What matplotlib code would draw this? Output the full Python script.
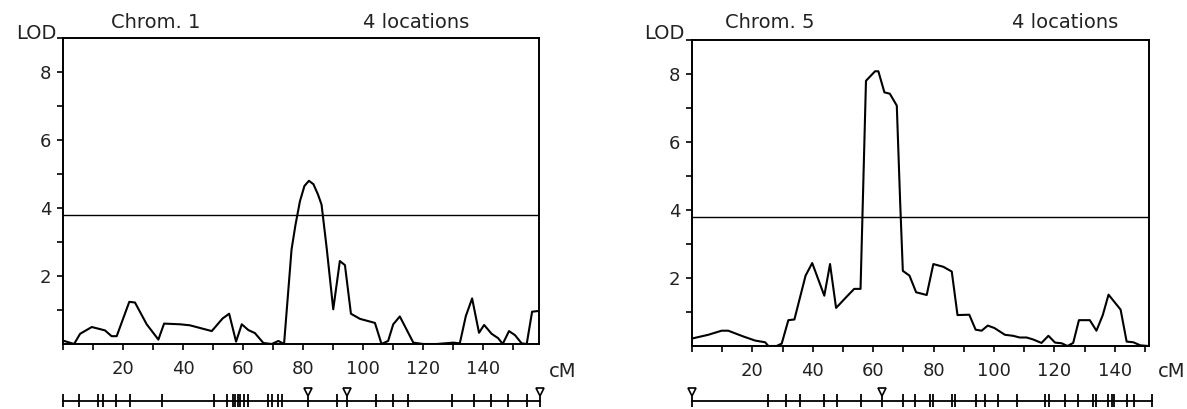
import numpy as np
import matplotlib
matplotlib.use("Agg")
import matplotlib.pyplot as plt

plt.rcParams['font.family'] = ['DejaVu Sans']

# LOD profile, chromosome 1
chr1_cm = [0, 3.7, 5.7, 9.6, 14, 16.2, 17.9, 22.1, 24, 27.9, 31.8, 33.7, 39, 42.3,
           49.6, 53.2, 55.4, 57.7, 59.6, 61.8, 64, 66.8, 69.6, 71.8, 73.7, 76.2,
           77.5, 79, 80.5, 82, 83.5, 85, 86.2, 87.9, 90.1, 92.3, 94, 96, 99, 104,
           106.2, 108.4, 110.1, 112.3, 116.8, 120.1, 124.6, 130.1, 132.3, 134.3,
           136.4, 138.7, 140.4, 142.9, 145.1, 146.6, 148.7, 150.7, 152.9, 154.6,
           156.4, 158.4]
chr1_lod = [0.1, 0.0, 0.3, 0.5, 0.4, 0.23, 0.23, 1.24, 1.22, 0.58, 0.13, 0.6, 0.58, 0.55,
            0.38, 0.75, 0.89, 0.07, 0.58, 0.41, 0.32, 0.03, 0.0, 0.09, 0.0, 2.78,
            3.5, 4.2, 4.65, 4.8, 4.7, 4.4, 4.1, 2.83, 1.02, 2.44, 2.32, 0.89, 0.74, 0.62,
            0.0, 0.09, 0.58, 0.81, 0.04, 0.0, 0.0, 0.04, 0.02, 0.82,
            1.34, 0.33, 0.56, 0.3, 0.17, 0.0, 0.38, 0.26, 0.02, 0.0,
            0.95, 0.97]

# LOD profile, chromosome 5
chr5_cm = [0, 5.4, 9.8, 12, 17, 20.9, 24.2, 25.3, 28, 29.7, 31.9, 33.9, 37.6, 39.8,
           43.8, 45.7, 47.7, 51.2, 53.7, 55.8, 57.6, 60.6, 61.7, 63.7, 65.5, 67.8,
           68.9, 69.8, 72, 74.2, 77.7, 79.9, 83.2, 86, 87.9, 91.8, 93.9, 95.9, 97.9,
           100.1, 103.6, 106.3, 108.5, 110.8, 113, 115.7, 118, 120.2, 122.4, 124.3,
           126.2, 128.1, 131.7, 133.9, 136, 137.9, 141.9, 143.9, 146.1, 148.4, 151]
chr5_lod = [0.22, 0.33, 0.45, 0.45, 0.28, 0.16, 0.11, 0.0, 0.0, 0.07, 0.76, 0.78, 2.07, 2.44,
            1.48, 2.41, 1.12, 1.45, 1.68, 1.68, 7.8, 8.08, 8.08, 7.46, 7.42, 7.07,
            4.27, 2.21, 2.07, 1.58, 1.5, 2.41, 2.33, 2.19, 0.91, 0.92, 0.48, 0.45, 0.6,
            0.53, 0.33, 0.3, 0.25, 0.25, 0.19, 0.09, 0.3, 0.1, 0.08, 0.0,
            0.09, 0.76, 0.76, 0.45, 0.91, 1.51, 1.07, 0.13, 0.11, 0.02, 0.0]

threshold = 3.8

# marker maps (cM) and the flanking / selected markers shown as triangles
chr1_markers = [0, 5.3, 11.8, 13.4, 17.7, 22.3, 32.9, 50.3, 54.6, 56.6, 57.3, 58.2, 59,
                60.4, 61.8, 68.2, 69.8, 71.6, 73.1, 81.6, 91.2, 94.8, 104.3, 110.1,
                114.9, 129.6, 137, 142.7, 148.4, 154.6, 159.2]
chr1_flags = [81.6, 94.8, 159.2]
chr5_markers = [0, 25.3, 31, 35.8, 43.8, 47.9, 56, 63, 70, 73.8, 78.8, 79.9, 86.2, 87.1,
                94, 97, 101.4, 107.5, 116.9, 118.2, 123.5, 127.7, 132.7, 133.8, 137.6,
                139, 139.8, 143.9, 146.4, 152.2]
chr5_flags = [0, 63]

panels = [
    dict(name='Chrom. 1', cm=chr1_cm, lod=chr1_lod, markers=chr1_markers, flags=chr1_flags,
         px=(63, 539, 38, 344), xmax=158.7, title_x=156, loc_x=416, cm_x=549, lod_x=56),
    dict(name='Chrom. 5', cm=chr5_cm, lod=chr5_lod, markers=chr5_markers, flags=chr5_flags,
         px=(692, 1149, 40, 346), xmax=151.3, title_x=770, loc_x=1065, cm_x=1158, lod_x=685),
]

W, H = 1187, 409
fig = plt.figure(figsize=(W / 100, H / 100), dpi=100)

for p in panels:
    x0, x1, yt, yb = p['px']
    ax = fig.add_axes([x0 / W, (H - yb) / H, (x1 - x0) / W, (yb - yt) / H])
    ax.plot(p['cm'], p['lod'], color='black', lw=1.5)
    ax.axhline(threshold, color='black', lw=1.0)
    ax.set_xlim(0, p['xmax'])
    ax.set_ylim(0, 9)

    xt = np.arange(0, 151, 10)
    ax.set_xticks(xt)
    ax.set_xticklabels([str(v) if v % 20 == 0 and v > 0 else '' for v in xt])
    yt_ = np.arange(1, 10)
    ax.set_yticks(yt_)
    ax.set_yticklabels([str(v) if v % 2 == 0 else '' for v in yt_])
    ax.tick_params(axis='x', direction='out', length=4.3, width=1.2, pad=7, labelsize=13,
                   colors='black', labelcolor='#222222')
    ax.tick_params(axis='y', direction='out', length=4.3, width=1.2, pad=4, labelsize=13,
                   colors='black', labelcolor='#222222')
    for s in ax.spines.values():
        s.set_linewidth(1.4)

    # titles and axis names
    fig.text(p['title_x'] / W, 1 - 28 / H, p['name'], ha='center', va='baseline',
             fontsize=14, color='#222222')
    fig.text(p['loc_x'] / W, 1 - 28 / H, '4 locations', ha='center', va='baseline',
             fontsize=14, color='#222222')
    fig.text(p['lod_x'] / W, 1 - 39 / H, 'LOD', ha='right', va='baseline',
             fontsize=14, color='#222222')
    fig.text(p['cm_x'] / W, 1 - 377 / H, 'cM', ha='left', va='baseline',
             fontsize=14, color='#222222')

    # marker map strip under the axis
    sx = fig.add_axes([x0 / W, 0, (x1 - x0) / W, 16.4 / H])
    sx.set_xlim(0, p['xmax'])
    sx.set_ylim(-1, 1)
    sx.axis('off')
    sx.plot([min(p['markers']), max(p['markers'])], [0, 0], color='black', lw=1.3, clip_on=False)
    sx.vlines(p['markers'], -0.8, 0.8, color='black', lw=1.3, clip_on=False)
    sx.plot(p['flags'], [1.05] * len(p['flags']), 'v', color='black', mfc='white',
            ms=6, mew=1.2, clip_on=False)

plt.savefig('out.png', dpi=100)
